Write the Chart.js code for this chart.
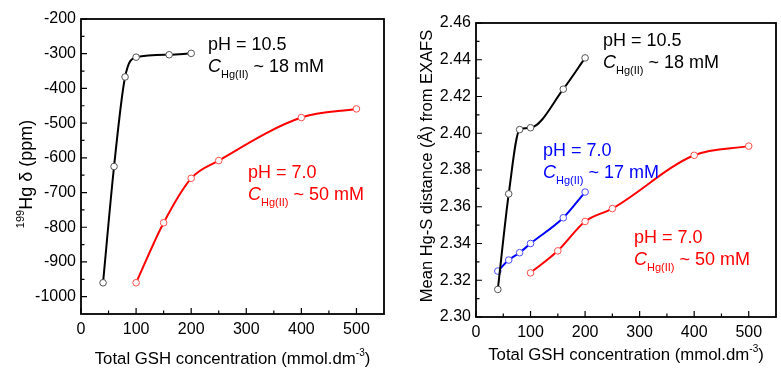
<!DOCTYPE html>
<html>
<head>
<meta charset="utf-8">
<script src="https://cdn.jsdelivr.net/npm/chart.js@4.4.1/dist/chart.umd.min.js"></script>
<style>
  html, body { margin:0; padding:0; background:#fff; }
  #wrap { position:relative; width:781px; height:369px; }
  #left { position:absolute; left:0; top:0; }
  #right { position:absolute; left:390px; top:0; }
</style>
</head>
<body>
<div id="wrap">
  <canvas id="left" width="390" height="369"></canvas>
  <canvas id="right" width="391" height="369"></canvas>
</div>
<script>
// --- values ---
// left: 199Hg chemical shift (ppm)
const shiftX_pH105 = [40, 60, 80, 100, 160, 200]
const shiftY_pH105 = [-960, -625, -367, -310, -303, -299]
const shiftX_pH70 = [100, 150, 200, 250, 400, 500]
const shiftY_pH70 = [-960, -787, -659, -608, -484, -459]

// right: mean Hg-S distance from EXAFS (Å)
const distX_pH105 = [40, 60, 80, 100, 160, 200]
const distY_pH105 = [2.315, 2.367, 2.402, 2.403, 2.424, 2.441]
const distX_pH70a = [40, 60, 80, 100, 160, 200]
const distY_pH70a = [2.325, 2.331, 2.335, 2.340, 2.354, 2.368]
const distX_pH70b = [100, 150, 200, 250, 400, 500]
const distY_pH70b = [2.324, 2.336, 2.352, 2.359, 2.388, 2.393]

// tick labels
const xTicks = [0, 100, 200, 300, 400, 500]
const shiftTicks = [-1000, -900, -800, -700, -600, -500, -400, -300, -200]
const distTicks = [2.30, 2.32, 2.34, 2.36, 2.38, 2.40, 2.42, 2.44, 2.46]

// label texts
const labelHigh = ['pH = 10.5', ' ~ 18 mM']
const labelLow17 = ['pH = 7.0', ' ~ 17 mM']
const labelLow50 = ['pH = 7.0', ' ~ 50 mM']

const FONT = '"Liberation Sans", Arial, Helvetica, sans-serif'
const f = (size, style) => (style ? style + ' ' : '') + size + 'px ' + FONT

function pts(xs, ys) {
  return xs.map((x, i) => ({x: x, y: ys[i]}))
}

function series(xs, ys, color, pointColor) {
  return {
    data: pts(xs, ys),
    showLine: true,
    cubicInterpolationMode: 'monotone',
    borderColor: color,
    borderWidth: 2,
    pointRadius: 3.3,
    pointBorderWidth: 1,
    pointBackgroundColor: '#fff',
    pointBorderColor: pointColor
  }
}

// draw a row of text pieces (font / vertical shift each)
function runs(ctx, x, y, parts, color, measureOnly) {
  let cx = x
  ctx.fillStyle = color
  ctx.textAlign = 'left'
  ctx.textBaseline = 'alphabetic'
  for (const p of parts) {
    ctx.font = p.font
    if (!measureOnly) ctx.fillText(p.t, cx, y + (p.dy || 0))
    cx += ctx.measureText(p.t).width
  }
  return cx - x
}

function condLabel(ctx, x, y, txt, color) {
  runs(ctx, x, y, [{t: txt[0], font: f(18)}], color)
  runs(ctx, x, y + 22, [
    {t: 'C', font: f(18, 'italic')},
    {t: 'Hg(II)', font: f(11), dy: 6},
    {t: txt[1], font: f(18)}
  ], color)
}

// frame, inward ticks, axis titles and condition labels
const decor = {
  id: 'decor',
  afterDraw(chart, args, o) {
    const ctx = chart.ctx
    const a = chart.chartArea
    const sx = chart.scales.x, sy = chart.scales.y
    ctx.save()
    ctx.strokeStyle = '#000'
    ctx.lineWidth = 1.8
    ctx.strokeRect(a.left, a.top, a.right - a.left, a.bottom - a.top)

    ctx.lineWidth = 1.2
    ctx.beginPath()
    o.xMajor.forEach(v => {
      const px = sx.getPixelForValue(v)
      ctx.moveTo(px, a.bottom); ctx.lineTo(px, a.bottom - 6)
    })
    o.xMajor.forEach(v => {
      const px = sx.getPixelForValue(v + o.xMinorStep)
      if (px < a.right - 2) { ctx.moveTo(px, a.bottom); ctx.lineTo(px, a.bottom - 3.5) }
    })
    o.yMajor.forEach(v => {
      const py = sy.getPixelForValue(v)
      ctx.moveTo(a.left, py); ctx.lineTo(a.left + 6, py)
      const pm = sy.getPixelForValue(v - o.yMinorStep)
      if (pm < a.bottom - 2) { ctx.moveTo(a.left, pm); ctx.lineTo(a.left + 3.5, pm) }
    })
    ctx.stroke()

    // x title
    const xt = [
      {t: 'Total GSH concentration (mmol.dm', font: f(16.8)},
      {t: '-3', font: f(10), dy: -8},
      {t: ')', font: f(16.8)}
    ]
    const w = runs(ctx, 0, 0, xt, '#000', true)
    runs(ctx, (a.left + a.right) / 2 - w / 2, o.xTitleY, xt, '#000')

    // y title
    ctx.translate(o.yTitleX, o.yTitleY)
    ctx.rotate(-Math.PI / 2)
    const yw = runs(ctx, 0, 0, o.yTitle, '#000', true)
    runs(ctx, -yw / 2, 0, o.yTitle, '#000')
    ctx.restore()

    ctx.save()
    o.labels.forEach(l => condLabel(ctx, l.x, l.y, l.txt, l.color))
    ctx.restore()
  }
}

function makeChart(id, datasets, yMin, yMax, yTickVals, yFmt, yWidth, xHeight, pad, decorOpts) {
  return new Chart(document.getElementById(id), {
    type: 'scatter',
    data: {datasets: datasets},
    options: {
      responsive: false,
      animation: false,
      layout: {padding: pad},
      plugins: {legend: {display: false}, tooltip: {enabled: false}, decor: decorOpts},
      scales: {
        x: {
          type: 'linear', min: 0, max: 550,
          grid: {display: false, drawTicks: false},
          border: {display: false},
          ticks: {font: {family: FONT, size: 16}, color: '#000', padding: 6, maxRotation: 0, autoSkip: false},
          afterBuildTicks: s => { s.ticks = xTicks.map(v => ({value: v})) },
          afterFit: s => { s.height = xHeight }
        },
        y: {
          type: 'linear', min: yMin, max: yMax,
          grid: {display: false, drawTicks: false},
          border: {display: false},
          ticks: {font: {family: FONT, size: 16}, color: '#000', padding: 5, autoSkip: false, callback: yFmt},
          afterBuildTicks: s => { s.ticks = yTickVals.map(v => ({value: v})) },
          afterFit: s => { s.width = yWidth }
        }
      }
    },
    plugins: [decor]
  })
}

makeChart('left', [
    series(shiftX_pH105, shiftY_pH105, '#000', '#555'),
    series(shiftX_pH70, shiftY_pH70, '#ff0000', '#ff4d4d')
  ], -1050, -200, shiftTicks, v => v, 81, 55,
  {left: 0, right: 6, top: 19, bottom: 0},
  {
    xMajor: xTicks, xMinorStep: 50, yMajor: shiftTicks, yMinorStep: 50,
    xTitleY: 364, yTitleX: 32, yTitleY: 174,
    yTitle: [{t: '199', font: f(11), dy: -8}, {t: 'Hg \u03b4 (ppm)', font: f(18)}],
    labels: [
      {x: 208, y: 50, txt: labelHigh, color: '#000'},
      {x: 248, y: 178, txt: labelLow50, color: '#ff0000'}
    ]
  })

makeChart('right', [
    series(distX_pH105, distY_pH105, '#000', '#555'),
    series(distX_pH70a, distY_pH70a, '#0000ff', '#4d4dff'),
    series(distX_pH70b, distY_pH70b, '#ff0000', '#ff4d4d')
  ], 2.30, 2.46, distTicks, v => v.toFixed(2), 86, 52,
  {left: 0, right: 4, top: 23, bottom: 0},
  {
    xMajor: xTicks, xMinorStep: 50, yMajor: distTicks, yMinorStep: 0.01,
    xTitleY: 360, yTitleX: 42, yTitleY: 166,
    yTitle: [{t: 'Mean Hg-S distance (\u00c5) from EXAFS', font: f(16.5)}],
    labels: [
      {x: 213, y: 46, txt: labelHigh, color: '#000'},
      {x: 153, y: 156, txt: labelLow17, color: '#0000ff'},
      {x: 244, y: 243, txt: labelLow50, color: '#ff0000'}
    ]
  })
</script>
</body>
</html>
